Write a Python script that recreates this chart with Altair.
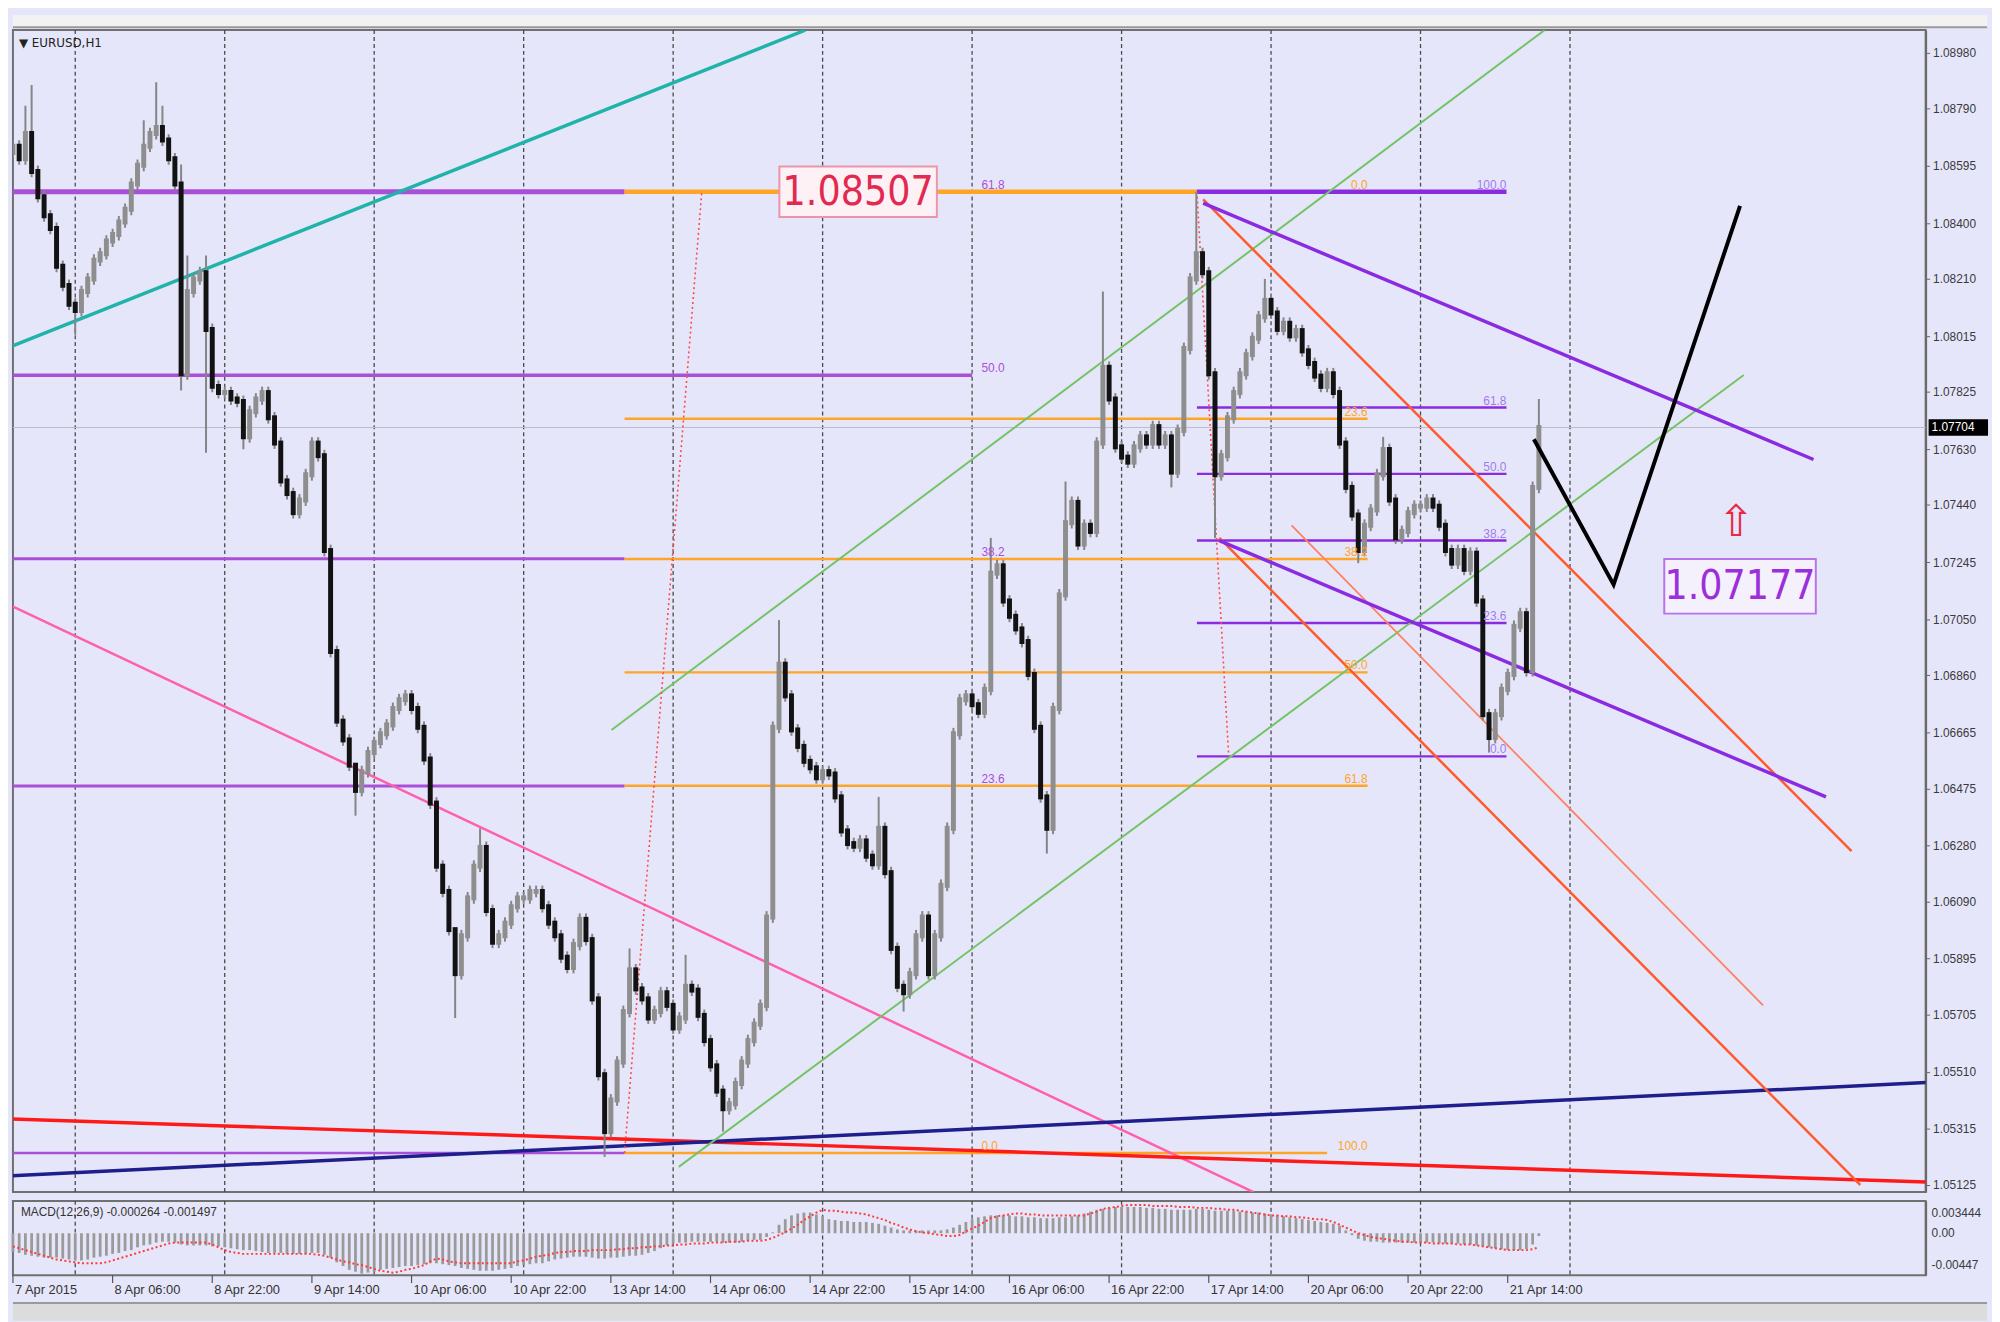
import altair as alt
import pandas as pd

# ---------------- data ----------------
closes = [
    1.08662, 1.08619, 1.08705, 1.08576, 1.08490, 1.08425, 1.08382, 1.08253, 1.08188, 1.08124,
    1.08102, 1.08167, 1.08210, 1.08274, 1.08296, 1.08339, 1.08361, 1.08404, 1.08447, 1.08533,
    1.08597, 1.08662, 1.08705, 1.08726, 1.08683, 1.08619, 1.08533, 1.07887, 1.08167, 1.08210,
    1.08231, 1.08038, 1.07844, 1.07823, 1.07823, 1.07801, 1.07793, 1.07672, 1.07758, 1.07801,
    1.07823, 1.07737, 1.07651, 1.07522, 1.07479, 1.07414, 1.07457, 1.07543, 1.07651, 1.07608,
    1.07285, 1.06941, 1.06704, 1.06640, 1.06554, 1.06468, 1.06532, 1.06597, 1.06631, 1.06661,
    1.06691, 1.06747, 1.06777, 1.06790, 1.06747, 1.06683, 1.06575, 1.06425, 1.06210, 1.06124,
    1.05994, 1.05844, 1.05973, 1.06102, 1.06210, 1.06274, 1.06059, 1.05951, 1.05973, 1.06016,
    1.06072, 1.06102, 1.06102, 1.06124, 1.06124, 1.06072, 1.06016, 1.05973, 1.05900, 1.05865,
    1.05943, 1.06029, 1.05960, 1.05758, 1.05500, 1.05306, 1.05414, 1.05543, 1.05715, 1.05857,
    1.05792, 1.05758, 1.05693, 1.05715, 1.05779, 1.05736, 1.05659, 1.05693, 1.05801, 1.05788,
    1.05702, 1.05616, 1.05530, 1.05444, 1.05384, 1.05401, 1.05470, 1.05543, 1.05616, 1.05672,
    1.05736, 1.06037, 1.06683, 1.06898, 1.06790, 1.06674, 1.06618, 1.06567, 1.06545, 1.06511,
    1.06532, 1.06524, 1.06446, 1.06330, 1.06287, 1.06278, 1.06296, 1.06244, 1.06218, 1.06339,
    1.06188, 1.05930, 1.05801, 1.05779, 1.05844, 1.05973, 1.06037, 1.05844, 1.05973, 1.06145,
    1.06339, 1.06661, 1.06777, 1.06790, 1.06760, 1.06734, 1.06812, 1.07208, 1.07233, 1.07113,
    1.07061, 1.07018, 1.06975, 1.06863, 1.06683, 1.06446, 1.06339, 1.06747, 1.07134, 1.07380,
    1.07449, 1.07307, 1.07371, 1.07350, 1.07651, 1.07909, 1.07801, 1.07638, 1.07603, 1.07586,
    1.07638, 1.07672, 1.07651, 1.07707, 1.07651, 1.07672, 1.07552, 1.07694, 1.07973, 1.08210,
    1.08296, 1.08231, 1.07887, 1.07543, 1.07608, 1.07737, 1.07823, 1.07887, 1.07952, 1.08008,
    1.08081, 1.08137, 1.08094, 1.08038, 1.08059, 1.08016, 1.08034, 1.07965, 1.07922, 1.07879,
    1.07844, 1.07887, 1.07823, 1.07651, 1.07500, 1.07406, 1.07285, 1.07371, 1.07423, 1.07543,
    1.07629, 1.07457, 1.07328, 1.07350, 1.07414, 1.07436, 1.07436, 1.07457, 1.07436, 1.07371,
    1.07285, 1.07242, 1.07285, 1.07221, 1.07276, 1.07113, 1.06726, 1.06648, 1.06726, 1.06812,
    1.06863, 1.07027, 1.07070, 1.06876, 1.07500, 1.07704,
]
first_open = 1.08640
spike_highs = {2: 1.08800, 3: 1.08870, 21: 1.08750, 23: 1.08880, 24: 1.08800, 27: 1.08600,
               28: 1.08290, 31: 1.08290, 55: 1.06560, 71: 1.06000, 75: 1.06339, 99: 1.05930,
               108: 1.05908, 123: 1.07048, 139: 1.06446, 157: 1.07328, 169: 1.07520,
               175: 1.08167, 190: 1.08507, 201: 1.08210, 220: 1.07672, 245: 1.07801}
spike_lows = {10: 1.08020, 27: 1.07830, 31: 1.07618, 37: 1.07630, 55: 1.06382, 71: 1.05693,
              95: 1.05220, 114: 1.05306, 143: 1.05715, 166: 1.06253, 186: 1.07500,
              193: 1.07328, 216: 1.07242, 237: 1.06597}

# MACD main (histogram) and signal, in units of 0.0001
macd_main_e4 = [
    -20, -21, -23, -24, -25,
    -26, -26, -26, -27, -28, -29,
    -29, -28, -26, -25, -24, -22,
    -21, -19, -18, -15, -13, -12, -10, -9, -9, -10,
    -12, -13, -13, -13, -13, -14, -14, -15,
    -16, -17, -18, -18, -19, -20, -21, -21, -21, -22, -22, -22, -22, -21, -21, -23, -26,
    -31, -35, -39, -41, -43, -42, -41, -39,
    -38, -37, -36, -35, -35, -34, -33,
    -32, -32, -33, -34, -35,
    -37, -38, -39, -40, -40, -40, -39, -38, -37, -35,
    -34, -33, -32, -32, -30,
    -28, -27, -26, -25, -25, -25, -26, -27, -27,
    -26, -26, -25, -24, -24, -23, -21, -19, -16, -13,
    -11, -10, -10, -9, -9, -9, -9, -9, -10, -10, -10, -9, -8, -7, -7, -4,
    1, 9, 15, 19, 21, 22,
    22, 20, 18,
    15, 14, 13, 13, 12, 12, 12, 11, 10, 8, 6,
    4, 3, 3, 3, 3, 3, 3, 3, 4, 6, 9,
    12, 15, 17, 18, 19, 19,
    19, 19, 18, 18, 17, 17, 16, 16,
    16, 17, 17, 18, 19, 21, 23, 25, 26,
    27, 28, 28, 28, 28, 28, 27, 27, 26, 26,
    25, 25, 25, 25, 26, 26, 25, 24, 24, 24, 24, 23, 23, 22, 22, 21, 20,
    19, 18, 17, 16, 15, 14, 13, 12, 11, 10, 8,
    3, -2,
    -6, -8, -9, -9, -10, -10, -10, -10, -10, -10, -10, -10, -10, -11, -11, -11, -11, -12, -12, -13, -14,
    -15, -16, -17, -18, -18, -18, -17, -12, -3,
]
macd_signal_e4 = [
    -14, -16, -18, -20, -22, -24, -26, -28,
    -29, -30, -31, -32, -32, -32, -32, -31,
    -29, -27, -25, -23,
    -21, -19, -17, -15, -13, -11, -10,
    -10, -10, -10, -10, -10,
    -12, -15, -18, -20,
    -21, -22, -22, -22, -22, -22, -22, -22, -22, -22, -22, -22, -22, -23, -24, -26,
    -28, -30, -31, -33, -34,
    -36, -38, -40, -41, -42,
    -41, -39, -38, -36, -34,
    -30, -27,
    -28, -30, -31, -32, -32, -32, -32, -32, -32, -32, -32, -32,
    -30, -29, -27, -25, -24, -23, -21, -20,
    -20, -19, -19, -19, -18, -18, -18, -18,
    -17, -17, -16, -16, -15, -15, -14, -14,
    -13, -13, -12, -12, -11, -11, -11, -10, -10, -10, -9, -9, -9, -8, -8, -8, -7,
    -5, -2, 1, 5, 9, 14, 18, 22, 25,
    24, 24, 23, 22, 22, 21, 20, 18, 16,
    14, 11, 9, 6, 4, 2, 1, 0, -1, -2, -3, -3,
    -2, 2, 5, 8, 12, 16, 18, 19, 20, 21,
    21, 20, 20, 19, 19, 19, 19, 19, 19, 19, 19, 21, 23,
    26, 27, 28, 29, 30, 30,
    30, 30, 29, 29, 29, 29, 28, 28, 28, 27, 27, 27, 26, 26, 25, 25,
    24, 23, 22, 21, 20, 19, 19, 18, 18, 17, 17, 16, 15, 15, 14,
    12, 9, 6, 3, 0, -2, -4, -5, -6,
    -7, -8, -9, -9, -10, -10, -10, -11, -11, -11, -11, -12, -12,
    -12, -13, -14, -15, -16, -17, -18, -18, -18, -18, -17, -15,
]

price_ticks = [1.08980, 1.08790, 1.08595, 1.08400, 1.08210, 1.08015, 1.07825, 1.07630,
               1.07440, 1.07245, 1.07050, 1.06860, 1.06665, 1.06475, 1.06280, 1.06090,
               1.05895, 1.05705, 1.05510, 1.05315, 1.05125]
time_labels = ["7 Apr 2015", "8 Apr 06:00", "8 Apr 22:00", "9 Apr 14:00", "10 Apr 06:00",
               "10 Apr 22:00", "13 Apr 14:00", "14 Apr 06:00", "14 Apr 22:00", "15 Apr 14:00",
               "16 Apr 06:00", "16 Apr 22:00", "17 Apr 14:00", "20 Apr 06:00", "20 Apr 22:00",
               "21 Apr 14:00"]
time_label_bars = [0, 16, 32, 48, 64, 80, 96, 112, 128, 144, 160, 176, 192, 208, 224, 240]
grid_bars = [10, 34, 58, 82, 106, 130, 154, 178, 202, 226, 250]
current_price = 1.07704
macd_axis_labels = ["0.003444", "0.00", "-0.00447"]

# Fibonacci levels (bar from, bar to, price, colour, width)
P_LEFT = "#a94fd8"
P_RIGHT = "#8a2be2"
ORANGE = "#ffa526"
fib_segments = [
    (-1, 98.2, 1.08507, P_LEFT, 5.0),
    (-1, 154.0, 1.07882, P_LEFT, 3.5),
    (-1, 98.2, 1.07257, P_LEFT, 3.0),
    (-1, 98.2, 1.06483, P_LEFT, 3.0),
    (-1, 98.2, 1.05233, P_LEFT, 2.5),
    (98.2, 190.1, 1.08507, ORANGE, 4.5),
    (98.2, 217.5, 1.07734, ORANGE, 2.5),
    (98.2, 217.5, 1.07256, ORANGE, 2.5),
    (98.2, 217.5, 1.06870, ORANGE, 2.5),
    (98.2, 217.5, 1.06484, ORANGE, 2.5),
    (98.2, 211.0, 1.05233, ORANGE, 2.5),
    (190.1, 239.8, 1.08507, P_RIGHT, 4.5),
    (190.1, 239.8, 1.07772, P_RIGHT, 2.5),
    (190.1, 239.8, 1.07546, P_RIGHT, 2.5),
    (190.1, 239.8, 1.07319, P_RIGHT, 2.5),
    (190.1, 239.8, 1.07038, P_RIGHT, 2.5),
    (190.1, 239.8, 1.06584, P_RIGHT, 2.5),
]
fib_labels_left = [(155.5, 1.08507, "61.8", P_LEFT), (155.5, 1.07882, "50.0", P_LEFT),
                   (155.5, 1.07257, "38.2", P_LEFT), (155.5, 1.06483, "23.6", P_LEFT),
                   (155.5, 1.05233, "0.0", ORANGE)]
fib_labels_right = [(217.5, 1.08507, "0.0", ORANGE), (217.5, 1.07734, "23.6", ORANGE),
                    (217.5, 1.07256, "38.2", ORANGE), (217.5, 1.06870, "50.0", ORANGE),
                    (217.5, 1.06484, "61.8", ORANGE), (217.5, 1.05233, "100.0", ORANGE),
                    (239.8, 1.08507, "100.0", "#a27af0"), (239.8, 1.07772, "61.8", "#a27af0"),
                    (239.8, 1.07546, "50.0", "#a27af0"), (239.8, 1.07319, "38.2", "#a27af0"),
                    (239.8, 1.07038, "23.6", "#a27af0"), (239.8, 1.06584, "0.0", "#a27af0")]

# trend lines (bar1, price1, bar2, price2, colour, width)
trend_lines = [
    (-1.0, 1.07974, 127.2, 1.09057, "#1fb3aa", 3.5),
    (-1.0, 1.07104, 199.2, 1.05100, "#ff5fae", 2.5),
    (-1.0, 1.05350, 307.7, 1.05134, "#ff1a1a", 3.5),
    (-1.0, 1.05155, 307.7, 1.05474, "#1e1e8c", 3.5),
    (96.1, 1.06674, 245.9, 1.09057, "#74c465", 2.0),
    (106.9, 1.05186, 277.9, 1.07883, "#74c465", 2.0),
    (191.1, 1.08481, 295.2, 1.06261, "#ff5a2c", 2.5),
    (193.7, 1.07328, 296.6, 1.05125, "#ff5a2c", 2.5),
    (205.3, 1.07371, 281.0, 1.05736, "#ff8060", 1.8),
    (191.1, 1.08468, 289.1, 1.07595, "#8a2be2", 3.5),
    (193.7, 1.07319, 291.1, 1.06446, "#8a2be2", 3.5),
]
dotted_lines = [
    (98.2, 1.05233, 110.6, 1.08507),
    (190.1, 1.08507, 195.2, 1.06584),
]
projection_bars = [244.2, 257.0, 277.3]
projection_prices = [1.07664, 1.07169, 1.08459]

# ---------------- frames ----------------
n = min(len(closes), len(macd_main_e4), len(macd_signal_e4))
rows = []
prev = first_open
for i in range(len(closes)):
    o, c = prev, closes[i]
    hi = max(spike_highs.get(i, max(o, c) + 0.0002), o, c)
    lo = min(spike_lows.get(i, min(o, c) - 0.0002), o, c)
    rows.append({"i": i, "open": o, "close": c, "high": hi, "low": lo})
    prev = c
candles = pd.DataFrame(rows)
macd = pd.DataFrame({"i": list(range(n)),
                     "m": [v / 10000 for v in macd_main_e4[:n]],
                     "s": [v / 10000 for v in macd_signal_e4[:n]]})

fib_df = pd.DataFrame(fib_segments, columns=["x1", "x2", "p", "color", "w"])
trend_df = pd.DataFrame(trend_lines, columns=["x1", "y1", "x2", "y2", "color", "w"])
dot_df = pd.DataFrame(dotted_lines, columns=["x1", "y1", "x2", "y2"])
lab_l = pd.DataFrame(fib_labels_left, columns=["x", "p", "t", "color"])
lab_r = pd.DataFrame(fib_labels_right, columns=["x", "p", "t", "color"])
proj_df = pd.DataFrame({"k": [0, 1, 2], "x": projection_bars, "p": projection_prices})
one = pd.DataFrame({"a": [0]})

# ---------------- scales / helpers ----------------
W, H1, H2 = 1931, 1173, 75
FONT = "Liberation Sans"
NARROW = "Liberation Sans Narrow, DejaVu Sans Condensed, Liberation Sans"
xs = alt.Scale(domain=[0, 307.1], nice=False, zero=False)
ys = alt.Scale(domain=[1.051005, 1.090573], nice=False, zero=False)
ms = alt.Scale(domain=[-0.00447, 0.003444], nice=False, zero=False)
yaxis = alt.Axis(orient="right", values=price_ticks, format=".5f", labelFontSize=12,
                 labelFont=FONT, labelColor="#3a3a3a", tickColor="#666666", tickSize=4,
                 domainColor="#6a6a6a", domainWidth=2, grid=False, title=None,
                 labelPadding=3, labelOverlap=False, labelFlush=False)
maxis = alt.Axis(orient="right", labels=False, ticks=False, domain=True,
                 domainColor="#6a6a6a", domainWidth=2, grid=False, title=None)


def X(f):
    return alt.X(f, type="quantitative", scale=xs, axis=None)


def Y(f):
    return alt.Y(f, type="quantitative", scale=ys, axis=yaxis)


def M(f):
    return alt.Y(f, type="quantitative", scale=ms, axis=maxis)


# ---------------- main price panel ----------------
toolbar = alt.Chart(one).mark_rect(color="#f2f2f2").encode(
    x=alt.value(0), x2=alt.value(W + 62), y=alt.value(-15), y2=alt.value(-4))
toolbar_line = alt.Chart(one).mark_rule(color="#9a9a9a", strokeWidth=2).encode(
    x=alt.value(0), x2=alt.value(W + 62), y=alt.value(-3))
grid = alt.Chart(pd.DataFrame({"i": grid_bars})).mark_rule(
    color="#4a4a4a", strokeDash=[4, 3], strokeWidth=1.3).encode(x=X("i"))
pline = alt.Chart(pd.DataFrame({"p": [current_price]})).mark_rule(
    color="#bdbdc6", strokeWidth=1.2).encode(y=Y("p"))
fibs = alt.Chart(fib_df).mark_rule(clip=True).encode(
    x=X("x1"), x2="x2", y=Y("p"),
    color=alt.Color("color:N", scale=None), strokeWidth=alt.StrokeWidth("w:Q", scale=None))
trends = alt.Chart(trend_df).mark_rule(clip=True).encode(
    x=X("x1"), x2="x2", y=Y("y1"), y2="y2",
    color=alt.Color("color:N", scale=None), strokeWidth=alt.StrokeWidth("w:Q", scale=None))
dots = alt.Chart(dot_df).mark_rule(clip=True, color="#ff4a4a", strokeDash=[2, 3],
                                   strokeWidth=1.6).encode(x=X("x1"), x2="x2", y=Y("y1"), y2="y2")
wicks = alt.Chart(candles).mark_rule(clip=True, color="#858585", strokeWidth=2).encode(
    x=X("i"), y=Y("low"), y2="high")
bodies = alt.Chart(candles).mark_rule(clip=True, strokeWidth=5, strokeCap="square").encode(
    x=X("i"), y=Y("open"), y2="close",
    color=alt.condition("datum.close >= datum.open", alt.value("#8e8e8e"), alt.value("#121212")))
proj = alt.Chart(proj_df).mark_line(color="#000000", strokeWidth=4, clip=True).encode(
    x=X("x"), y=Y("p"), order="k")
labs_l = alt.Chart(lab_l).mark_text(align="left", baseline="middle", dy=-7, fontSize=12,
                                     font=FONT).encode(
    x=X("x"), y=Y("p"), text="t", color=alt.Color("color:N", scale=None))
labs_r = alt.Chart(lab_r).mark_text(align="right", baseline="middle", dy=-7, fontSize=12,
                                     font=FONT).encode(
    x=X("x"), y=Y("p"), text="t", color=alt.Color("color:N", scale=None))

box1_df = pd.DataFrame({"x": [135.7], "p": [1.08507], "t": ["1.08507"]})
box1 = alt.Chart(box1_df).mark_point(
    shape="M-1,-0.32L1,-0.32L1,0.32L-1,0.32Z", size=159 ** 2, filled=True,
    fill="#fdf1f5", stroke="#e995ab", strokeWidth=2, opacity=1).encode(x=X("x"), y=Y("p"))
box1_t = alt.Chart(box1_df).mark_text(font=NARROW, fontSize=41, color="#e2294f",
                                      baseline="middle", align="center", dy=1).encode(
    x=X("x"), y=Y("p"), text="t")
box2_df = pd.DataFrame({"x": [277.3], "p": [1.07163], "t": ["1.07177"]})
box2 = alt.Chart(box2_df).mark_point(
    shape="M-1,-0.36L1,-0.36L1,0.36L-1,0.36Z", size=153 ** 2, filled=True,
    fill="#f5f1fc", stroke="#b873e8", strokeWidth=2, opacity=1).encode(x=X("x"), y=Y("p"))
box2_t = alt.Chart(box2_df).mark_text(font=NARROW, fontSize=41, color="#9b2fd9",
                                      baseline="middle", align="center", dy=1).encode(
    x=X("x"), y=Y("p"), text="t")
arrow_df = pd.DataFrame({"x": [276.7], "p": [1.07380], "t": ["\u21e7"]})
arrow = alt.Chart(arrow_df).mark_text(font="DejaVu Sans", fontSize=44, color="#e52a45",
                                      baseline="middle", align="center").encode(
    x=X("x"), y=Y("p"), text="t")
title = alt.Chart(one).mark_text(text="\u25bc EURUSD,H1", align="left", baseline="middle",
                                 fontSize=12, font="DejaVu Sans", color="#222222").encode(
    x=alt.value(6), y=alt.value(13))
cur_box = alt.Chart(pd.DataFrame({"p": [current_price]})).mark_point(
    shape="M-1,-0.25L1,-0.25L1,0.25L-1,0.25Z", size=58 ** 2, filled=True,
    fill="#000000", stroke="#000000", opacity=1).encode(x=alt.value(W + 33), y=Y("p"))
cur_txt = alt.Chart(pd.DataFrame({"p": [current_price], "t": ["1.07704"]})).mark_text(
    align="left", baseline="middle", fontSize=12, font=FONT, color="#ffffff").encode(
    x=alt.value(W + 6), y=Y("p"), text="t")

main = alt.layer(toolbar, toolbar_line, grid, pline, fibs, trends, dots, wicks, bodies,
                 proj, labs_l, labs_r, box1, box1_t, box2, box2_t, arrow, title,
                 cur_box, cur_txt).properties(width=W, height=H1)

# ---------------- MACD panel ----------------
mgrid = alt.Chart(pd.DataFrame({"i": grid_bars})).mark_rule(
    color="#4a4a4a", strokeDash=[4, 3], strokeWidth=1.3).encode(x=X("i"))
hist = alt.Chart(macd).mark_rule(color="#9a9a9a", strokeWidth=2.8).encode(
    x=X("i"), y=M("m"), y2=alt.datum(0))
sig = alt.Chart(macd).mark_line(color="#ff3b3b", strokeDash=[2, 2.5], strokeWidth=2).encode(
    x=X("i"), y=M("s"))
mtitle = alt.Chart(one).mark_text(text="MACD(12,26,9) -0.000264 -0.001497", align="left",
                                  baseline="middle", fontSize=12, font=FONT,
                                  color="#333333").encode(x=alt.value(8), y=alt.value(11))
mlab_df = pd.DataFrame({"t": macd_axis_labels, "yy": [12, 32, 65]})
mlabs = alt.Chart(mlab_df).mark_text(align="left", baseline="middle", fontSize=12, font=FONT,
                                     color="#3a3a3a").encode(
    x=alt.value(W + 6), y=alt.Y("yy:Q", scale=None), text="t")
tl_df = pd.DataFrame({"i": time_label_bars, "t": time_labels})
tticks = alt.Chart(tl_df).mark_rule(color="#555555", strokeWidth=1.2).encode(
    x=X("i"), y=alt.value(H2), y2=alt.value(H2 + 8))
tlabs = alt.Chart(tl_df).mark_text(align="left", baseline="middle", dx=2, fontSize=13,
                                   font=FONT, color="#333333").encode(
    x=X("i"), y=alt.value(H2 + 15), text="t")
bottom = alt.Chart(one).mark_rect(color="#dcdcdc").encode(
    x=alt.value(0), x2=alt.value(W + 62), y=alt.value(H2 + 28), y2=alt.value(H2 + 46))
bottom_line = alt.Chart(one).mark_rule(color="#9a9a9a", strokeWidth=2).encode(
    x=alt.value(0), x2=alt.value(W + 62), y=alt.value(H2 + 28))

macd_chart = alt.layer(mgrid, hist, sig, mtitle, mlabs, tticks, tlabs, bottom,
                       bottom_line).properties(width=W, height=H2)

chart = alt.vconcat(main, macd_chart, spacing=5).properties(
    background="#e6e6fa", padding={"left": 0, "top": 0, "right": 0, "bottom": 0}
).configure_view(fill="#e6e6fa", stroke="#707070", strokeWidth=2)

chart.save("out.html", embed_options={"renderer": "svg", "actions": False})
